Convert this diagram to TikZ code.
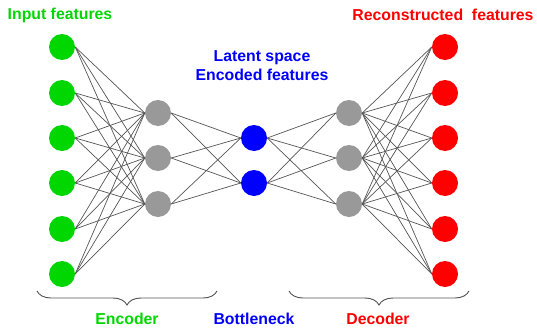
\documentclass[tikz,border=0pt]{standalone}
\usepackage{fontspec}
\setmainfont{Liberation Sans}
\usepackage{tikz}
\usetikzlibrary{decorations.pathreplacing,positioning}

\definecolor{ingreen}{RGB}{0,215,0}
\definecolor{outred}{RGB}{255,0,0}
\definecolor{latblue}{RGB}{0,0,255}
\definecolor{hidgray}{RGB}{153,153,153}
\definecolor{wiregray}{RGB}{85,85,85}

\begin{document}
\begin{tikzpicture}[x=0.03cm, y=0.03cm,
  %% ── Neuron styles ───────────────────────────────────────────────────────
  neuron/.style={circle, minimum size=0.78cm, inner sep=0pt},
  inn/.style={neuron, fill=ingreen},
  hid/.style={neuron, fill=hidgray},
  lat/.style={neuron, fill=latblue},
  outn/.style={neuron, fill=outred},
  %% ── Wire and label styles ───────────────────────────────────────────────
  wire/.style={wiregray, line width=0.6pt},
  brc/.style={decorate, decoration={brace, mirror, amplitude=0.42cm},
              wiregray, line width=0.8pt},
  lbl/.style={font=\fontsize{13.5}{16}\selectfont\bfseries, align=center}
]
\useasboundingbox (0,0) rectangle (537,327);

%% ── Input layer  (x = 62) ──────────────────────────────────────────────────
\node[inn] (i1) at (62, 280) {};
\node[inn] (i2) at (62, 234) {};
\node[inn] (i3) at (62, 189) {};
\node[inn] (i4) at (62, 144) {};
\node[inn] (i5) at (62,  98) {};
\node[inn] (i6) at (62,  53) {};

%% ── Encoder hidden layer  (x = 158) ────────────────────────────────────────
\node[hid] (e1) at (158, 214) {};
\node[hid] (e2) at (158, 169) {};
\node[hid] (e3) at (158, 123) {};

%% ── Bottleneck  (x = 254) ──────────────────────────────────────────────────
\node[lat] (z1) at (254, 189) {};
\node[lat] (z2) at (254, 144) {};

%% ── Decoder hidden layer  (x = 349) ────────────────────────────────────────
\node[hid] (d1) at (349, 214) {};
\node[hid] (d2) at (349, 169) {};
\node[hid] (d3) at (349, 123) {};

%% ── Output layer  (x = 445) ────────────────────────────────────────────────
\node[outn] (o1) at (445, 280) {};
\node[outn] (o2) at (445, 234) {};
\node[outn] (o3) at (445, 189) {};
\node[outn] (o4) at (445, 144) {};
\node[outn] (o5) at (445,  98) {};
\node[outn] (o6) at (445,  53) {};

%% ── Connections (fully connected between neighbouring layers) ─────────────
\foreach \a in {1,...,6}
  \foreach \b in {1,2,3}
    \draw[wire] (i\a.east) -- (e\b.west);
\foreach \a in {1,2,3}
  \foreach \b in {1,2}
    \draw[wire] (e\a.east) -- (z\b.west);
\foreach \a in {1,2}
  \foreach \b in {1,2,3}
    \draw[wire] (z\a.east) -- (d\b.west);
\foreach \a in {1,2,3}
  \foreach \b in {1,...,6}
    \draw[wire] (d\a.east) -- (o\b.west);

%% ── Top labels ─────────────────────────────────────────────────────────────
\node[lbl, text=ingreen] (tin)  at (60, 312) {Input features};
\node[lbl, text=outred]  (tout) at (443, 312) {Reconstructed\ \ features};
\node[lbl, text=latblue] (tlat) at (262, 261) {Latent space\\Encoded features};

%% ── Braces and bottom labels ───────────────────────────────────────────────
\coordinate (encL) at (37, 36);
\coordinate (encR) at (217, 36);
\coordinate (decL) at (289, 36);
\coordinate (decR) at (469, 36);
\draw[brc] (encL) -- (encR);
\draw[brc] (decL) -- (decR);

\node[lbl, text=ingreen] (tenc) at (127, 8) {Encoder};
\node[lbl, text=latblue] (tbot) at (254, 8) {Bottleneck};
\node[lbl, text=outred]  (tdec) at (378, 8) {Decoder};

\end{tikzpicture}
\end{document}
